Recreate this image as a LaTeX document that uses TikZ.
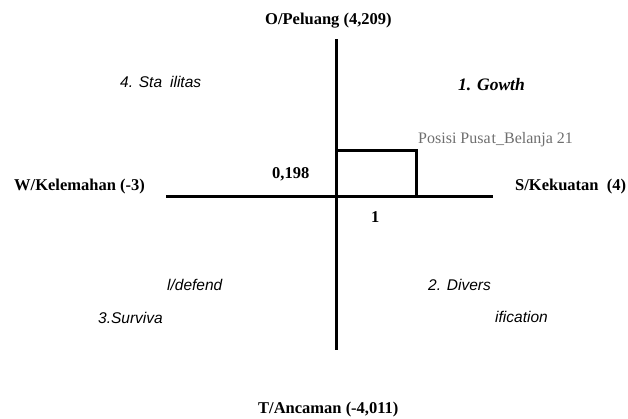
\documentclass[tikz,border=0pt]{standalone}
\usepackage{fontspec}
\setmainfont{Liberation Serif}
\newfontfamily\sansfam{Liberation Sans}
\definecolor{postxt}{RGB}{110,110,110}
\begin{document}
\begin{tikzpicture}[x=1pt,y=-1pt,
  axislabel/.style={anchor=base west,inner sep=0pt,font=\fontsize{16.5}{18}\selectfont\bfseries},
  quadlabel/.style={anchor=base west,inner sep=0pt,font=\fontsize{15.5}{17}\selectfont\sansfam\itshape},
  axisline/.style={line width=3pt},
  posbox/.style={line width=3pt}]
\useasboundingbox (0,0) rectangle (628,418);
% axes
\coordinate (top) at (336,39);
\coordinate (bottom) at (336,350);
\coordinate (left) at (166,196);
\coordinate (right) at (493,196);
\coordinate (ra) at (336,150);
\coordinate (rb) at (416,150);
\coordinate (rc) at (416,196);
\draw[axisline] (top) -- (bottom);
\draw[axisline] (left) -- (right);
\draw[posbox] (ra) -- (rb) -- (rc);
% axis labels
\node[axislabel] (o) at (265,24) {O/Peluang (4,209)};
\node[axislabel] (w) at (14,190) {W/Kelemahan (-3)};
\node[axislabel] (s) at (515,190) {S/Kekuatan\ \ (4)};
\node[axislabel] (t) at (258,413) {T/Ancaman (-4,011)};
\node[axislabel] (y) at (272,178) {0,198};
\node[axislabel] (x) at (371,222) {1};
\node[anchor=base west,inner sep=0pt,text=postxt,font=\fontsize{16}{18}\selectfont] (pos) at (418,143) {Posisi Pusa\hspace{1pt}t\_Belanja 21};
% quadrant labels
\node[quadlabel] (q4) at (120,87) {4. Sta\hspace{8pt}ilitas};
\node[quadlabel,font=\fontsize{17.5}{19}\selectfont\bfseries\itshape] (q1) at (458,90) {1. Gowth};
\node[quadlabel] (q3a) at (167,290) {l/defend};
\node[quadlabel,anchor=base east] (q3b) at (163,323) {3.Surviva};
\node[quadlabel] (q2a) at (428,290) {2. Divers};
\node[quadlabel] (q2b) at (495,322) {ification};
\end{tikzpicture}
\end{document}
